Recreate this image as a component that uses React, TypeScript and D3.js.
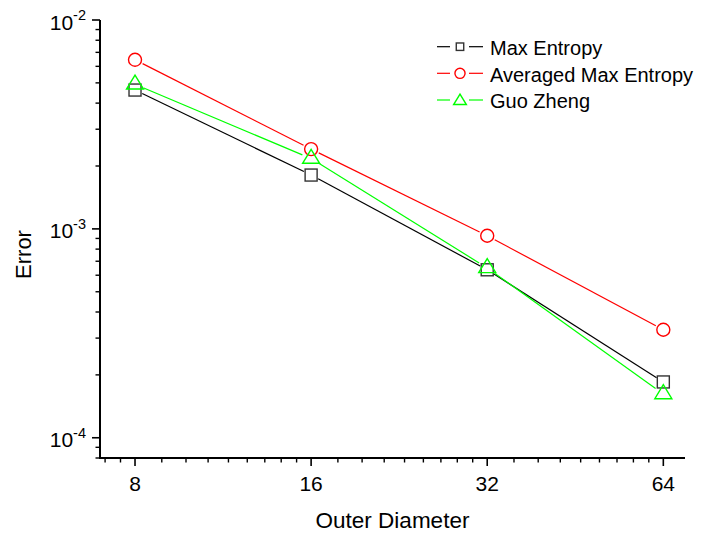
import React from "react";
import * as d3 from "d3";

const xValues = [8, 16, 32, 64];
const maxEntropy = [4.62e-3, 1.81e-3, 6.37e-4, 1.85e-4];
const averagedMaxEntropy = [6.45e-3, 2.41e-3, 9.27e-4, 3.29e-4];
const guoZheng = [4.92e-3, 2.17e-3, 6.5e-4, 1.62e-4];

const xTickValues = [8, 16, 32, 64];
const yTickExponents = [-4, -3, -2];
const seriesNames = ["Max Entropy", "Averaged Max Entropy", "Guo Zheng"];
const seriesColors = ["#000000", "#ff0000", "#00ff00"];
const seriesShapes = ["square", "circle", "triangle"];

const FONT = "'Liberation Sans', Arial, Helvetica, sans-serif";

const W = 702;
const H = 533;
const left = 100;
const right = 685;
const top = 20;
const bottom = 458;

function Marker({ shape, cx, cy, color, scale = 1 }: any) {
  const sw = 1.4;
  if (shape === "square") {
    const s = 12 * scale;
    return <rect x={cx - s / 2} y={cy - s / 2} width={s} height={s} fill="none" stroke={color === "#000000" ? "#333" : color} strokeWidth={sw} />;
  }
  if (shape === "circle") {
    return <circle cx={cx} cy={cy} r={6.5 * scale} fill="none" stroke={color} strokeWidth={sw} />;
  }
  const hw = 8.5 * scale;
  const up = 9.3 * scale;
  const dn = 4.7 * scale;
  return (
    <path
      d={`M${cx},${cy - up}L${cx + hw},${cy + dn}L${cx - hw},${cy + dn}Z`}
      fill="none"
      stroke={color}
      strokeWidth={sw}
    />
  );
}

export default function App() {
  const x = d3.scaleLog().base(2).domain([6.97, 69.7]).range([left, right]);
  const y = d3.scaleLog().domain([8e-5, 1e-2]).range([bottom, top]);

  const allSeries = [maxEntropy, averagedMaxEntropy, guoZheng];

  // minor ticks (Origin style: 8 linear subdivisions between log2 majors)
  const xMinor: number[] = [];
  [4, 8, 16, 32, 64].forEach((m) => {
    for (let k = 1; k <= 8; k++) {
      const v = m + (k * m) / 9;
      if (v > x.domain()[0] && v < x.domain()[1]) xMinor.push(v);
    }
  });
  const yMinor: number[] = [];
  [-5, -4, -3].forEach((e) => {
    for (let k = 2; k <= 9; k++) {
      const v = k * Math.pow(10, e);
      if (v >= 8e-5 && v < 1e-2) yMinor.push(v);
    }
  });

  const gaps = [8, 8.5, 9.5];

  const segs = (vals: number[], gap: number) => {
    const out: any[] = [];
    for (let i = 0; i < vals.length - 1; i++) {
      const x0 = x(xValues[i]);
      const y0 = y(vals[i]);
      const x1 = x(xValues[i + 1]);
      const y1 = y(vals[i + 1]);
      const dx = x1 - x0;
      const dy = y1 - y0;
      const len = Math.sqrt(dx * dx + dy * dy);
      const ux = dx / len;
      const uy = dy / len;
      out.push([x0 + ux * gap, y0 + uy * gap, x1 - ux * gap, y1 - uy * gap]);
    }
    return out;
  };

  const legendRows = [46.7, 73.3, 100];

  return (
    <svg
      width={W}
      height={H}
      style={{ position: "absolute", left: 0, top: 0, background: "#fff" }}
      fontFamily={FONT}
    >
      <rect x={0} y={0} width={W} height={H} fill="#fff" />

      {/* series lines */}
      {allSeries.map((vals, si) =>
        segs(vals, gaps[si]).map((s: any, i: number) => (
          <line key={`l${si}-${i}`} x1={s[0]} y1={s[1]} x2={s[2]} y2={s[3]} stroke={seriesColors[si]} strokeWidth={1.2} />
        ))
      )}
      {/* markers */}
      {allSeries.map((vals, si) =>
        vals.map((v, i) => (
          <Marker key={`m${si}-${i}`} shape={seriesShapes[si]} cx={x(xValues[i])} cy={y(v)} color={seriesColors[si]} />
        ))
      )}

      {/* axes */}
      <line x1={left} y1={top} x2={left} y2={bottom + 1} stroke="#000" strokeWidth={2} />
      <line x1={left - 1} y1={bottom} x2={right} y2={bottom} stroke="#000" strokeWidth={2} />

      {xTickValues.map((v) => (
        <g key={`xt${v}`}>
          <line x1={x(v)} x2={x(v)} y1={bottom} y2={bottom + 8} stroke="#000" strokeWidth={1.6} />
          <text x={x(v)} y={491} textAnchor="middle" fontSize={21} fill="#000">
            {v}
          </text>
        </g>
      ))}
      {xMinor.map((v, i) => (
        <line key={`xm${i}`} x1={x(v)} x2={x(v)} y1={bottom} y2={bottom + 4.5} stroke="#000" strokeWidth={1.4} />
      ))}

      {yTickExponents.map((e) => {
        const v = Math.pow(10, e);
        return (
          <g key={`yt${e}`}>
            <line x1={left - 8} x2={left} y1={y(v)} y2={y(v)} stroke="#000" strokeWidth={1.6} />
            <text x={86} y={y(v) + 9.5} textAnchor="end" fontSize={21} fill="#000">
              10
              <tspan fontSize={14.5} dy={-9.5}>
                {String(e)}
              </tspan>
            </text>
          </g>
        );
      })}
      {yMinor.map((v, i) => (
        <line key={`ym${i}`} x1={left - 4.5} x2={left} y1={y(v)} y2={y(v)} stroke="#000" strokeWidth={1.4} />
      ))}

      {/* axis titles */}
      <text x={(left + right) / 2} y={528} textAnchor="middle" fontSize={22.5} fill="#000">
        Outer Diameter
      </text>
      <text transform={`translate(30.5,254.5) rotate(-90)`} textAnchor="middle" fontSize={22} fill="#000">
        Error
      </text>

      {/* legend */}
      {seriesNames.map((name, i) => {
        const ly = legendRows[i];
        const c = seriesColors[i];
        return (
          <g key={`lg${i}`}>
            <line x1={437} x2={450} y1={ly} y2={ly} stroke={c} strokeWidth={1.2} />
            <line x1={469} x2={483} y1={ly} y2={ly} stroke={c} strokeWidth={1.2} />
            <Marker shape={seriesShapes[i]} cx={460} cy={i === 2 ? ly + 1 : ly} color={c} scale={i === 0 ? 0.62 : i === 1 ? 0.78 : 0.75} />
            <text x={490} y={ly + 8.3} fontSize={20} fill="#000">
              {name}
            </text>
          </g>
        );
      })}
    </svg>
  );
}
